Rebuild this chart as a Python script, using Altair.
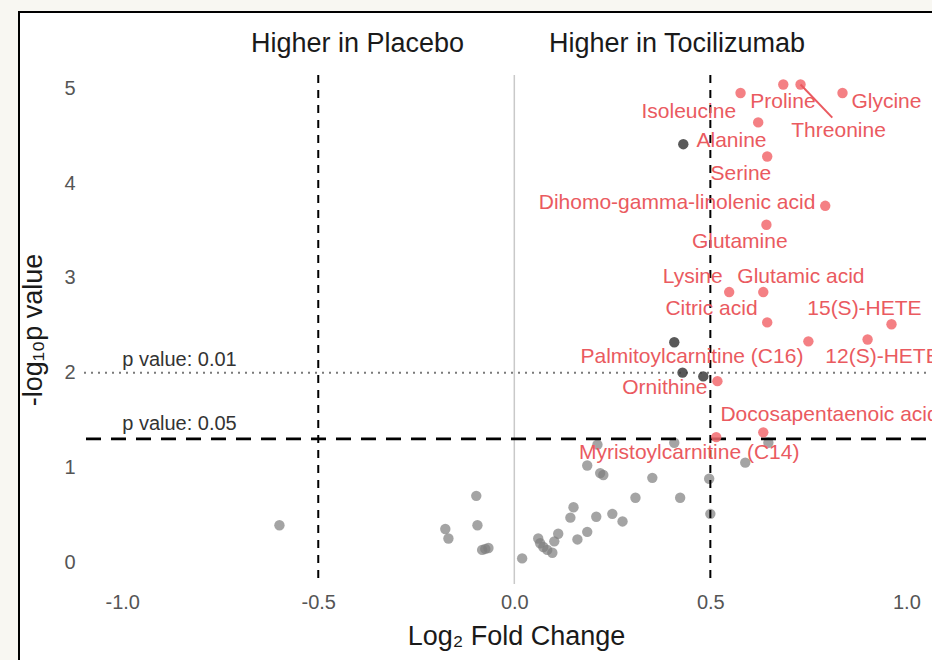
import altair as alt
import pandas as pd

# Metabolites significant in both p value and fold change (labelled, red)
sig_names = [
    "Proline", "Threonine", "Isoleucine", "Glycine", "Alanine", "Serine",
    "Dihomo-gamma-linolenic acid", "Glutamine", "Lysine", "Glutamic acid",
    "Citric acid", "15(S)-HETE", "Palmitoylcarnitine (C16)", "12(S)-HETE",
    "Ornithine", "Docosapentaenoic acid", "Myristoylcarnitine (C14)",
]
sig_fc = [0.686, 0.730, 0.577, 0.837, 0.622, 0.645, 0.793, 0.643, 0.548, 0.635,
          0.645, 0.962, 0.750, 0.901, 0.518, 0.635, 0.515]
sig_logp = [5.04, 5.04, 4.95, 4.95, 4.64, 4.28, 3.76, 3.56, 2.85, 2.85,
            2.53, 2.51, 2.33, 2.35, 1.91, 1.37, 1.32]
# Repelled label anchors (data units)
label_fc = [0.685, 0.827, 0.445, 0.949, 0.554, 0.578, 0.415, 0.575, 0.455, 0.731,
            0.503, 0.893, 0.453, 0.939, 0.384, 0.804, 0.446]
label_logp = [4.86, 4.55, 4.75, 4.85, 4.44, 4.10, 3.79, 3.38, 3.01, 3.01,
              2.67, 2.67, 2.17, 2.17, 1.84, 1.55, 1.15]
# Leader segment for Threonine
seg_fc = [0.730, 0.811]
seg_logp = [5.04, 4.69]

# Significant p value only (dark)
p_only_fc = [0.431, 0.408, 0.429, 0.482]
p_only_logp = [4.41, 2.32, 2.00, 1.96]

# Not significant (grey)
ns_fc = [-0.599, -0.176, -0.168, -0.097, -0.094, -0.082, -0.074, -0.066, 0.020,
         0.061, 0.066, 0.074, 0.084, 0.097, 0.112, 0.102, 0.161, 0.186, 0.151,
         0.143, 0.209, 0.250, 0.276, 0.309, 0.423, 0.352, 0.497, 0.500, 0.186,
         0.219, 0.227, 0.212, 0.408, 0.648, 0.589]
ns_logp = [0.39, 0.35, 0.25, 0.70, 0.39, 0.13, 0.14, 0.15, 0.04,
           0.25, 0.20, 0.16, 0.13, 0.10, 0.30, 0.22, 0.24, 0.32, 0.58,
           0.47, 0.48, 0.51, 0.43, 0.68, 0.68, 0.89, 0.88, 0.51, 1.02,
           0.94, 0.92, 1.24, 1.26, 1.26, 1.05]

fc_cutoffs = [-0.5, 0.5]
p_cut_05 = [1.301]
p_cut_01 = [2.0]

FONT = "Liberation Sans, Arial, DejaVu Sans"
RED = "#f26a6e"
RED_TEXT = "#ea5a60"
PAPER = "#f8f7f2"
PT = 108

x_dom = [-1.1, 1.05]
y_dom = [-0.23, 5.14]
W, H = 843, 509
PAD_L, PAD_T = 83, 75

xs = alt.Scale(domain=x_dom, nice=False, zero=False)
ys = alt.Scale(domain=y_dom, nice=False, zero=False)

ns_df = pd.DataFrame({"fc": ns_fc, "logp": ns_logp})
p_df = pd.DataFrame({"fc": p_only_fc, "logp": p_only_logp})
sig_df = pd.DataFrame({"name": sig_names, "fc": sig_fc, "logp": sig_logp,
                       "lx": label_fc, "ly": label_logp})
seg_df = pd.DataFrame({"fc": seg_fc[:1], "logp": seg_logp[:1],
                       "fc2": seg_fc[1:], "logp2": seg_logp[1:]})

one = pd.DataFrame({"k": [0]})

# Paper margin outside the figure frame, and the frame outline itself
margin_left = alt.Chart(one).mark_rect(fill=PAPER, clip=False).encode(
    x=alt.value(-PAD_L), x2=alt.value(19 - PAD_L),
    y=alt.value(-PAD_T), y2=alt.value(H + 120),
)
margin_top = alt.Chart(one).mark_rect(fill=PAPER, clip=False).encode(
    x=alt.value(-PAD_L), x2=alt.value(W + 60),
    y=alt.value(-PAD_T), y2=alt.value(12 - PAD_T),
)
frame = alt.Chart(one).mark_rect(
    filled=False, stroke="black", strokeWidth=2, clip=False
).encode(
    x=alt.value(19 - PAD_L), x2=alt.value(W + 60),
    y=alt.value(12 - PAD_T), y2=alt.value(H + 120),
)

zero_line = alt.Chart(pd.DataFrame({"fc": [0.0]})).mark_rule(
    color="#c9c9c9", strokeWidth=1.5
).encode(x=alt.X("fc:Q", scale=xs))

vlines = alt.Chart(pd.DataFrame({"fc": fc_cutoffs})).mark_rule(
    color="black", strokeWidth=2, strokeDash=[8, 7]
).encode(x=alt.X("fc:Q", scale=xs))

hline05 = alt.Chart(pd.DataFrame({"logp": p_cut_05})).mark_rule(
    color="black", strokeWidth=2.6, strokeDash=[15, 10]
).encode(y=alt.Y("logp:Q", scale=ys))

hline01 = alt.Chart(pd.DataFrame({"logp": p_cut_01})).mark_rule(
    color="#7a7a7a", strokeWidth=2, strokeDash=[2, 5]
).encode(y=alt.Y("logp:Q", scale=ys))

x_axis = alt.Axis(values=[-1, -0.5, 0, 0.5, 1], format=".1f",
                  labelExpr="replace(datum.label, '\u2212', '-')",
                  title="Log\u2082 Fold Change", titleX=433, titleY=60,
                  titleAlign="center", titleBaseline="alphabetic",
                  labelPadding=8, zindex=2)
y_axis = alt.Axis(values=[0, 1, 2, 3, 4, 5], format="d",
                  title="-log\u2081\u2080p value", titleX=-50, titleY=H / 2,
                  titleAngle=270, titleAlign="center",
                  titleBaseline="middle", labelPadding=8, zindex=2)

ns_pts = alt.Chart(ns_df).mark_circle(size=PT, color="#7d7d7d", opacity=0.7).encode(
    x=alt.X("fc:Q", scale=xs, axis=x_axis),
    y=alt.Y("logp:Q", scale=ys, axis=y_axis),
)

p_pts = alt.Chart(p_df).mark_circle(size=PT, color="#3c3c3c", opacity=0.85).encode(
    x=alt.X("fc:Q", scale=xs), y=alt.Y("logp:Q", scale=ys)
)

sig_pts = alt.Chart(sig_df).mark_circle(size=PT, color=RED, opacity=0.85).encode(
    x=alt.X("fc:Q", scale=xs), y=alt.Y("logp:Q", scale=ys)
)

segment = alt.Chart(seg_df).mark_rule(color=RED_TEXT, strokeWidth=2).encode(
    x=alt.X("fc:Q", scale=xs), y=alt.Y("logp:Q", scale=ys),
    x2="fc2:Q", y2="logp2:Q",
)

sig_labels = alt.Chart(sig_df).mark_text(
    font=FONT, fontSize=21, color=RED_TEXT, align="center", baseline="middle",
    clip=False
).encode(
    x=alt.X("lx:Q", scale=xs), y=alt.Y("ly:Q", scale=ys), text="name:N"
)

p_notes = alt.Chart(pd.DataFrame({
    "fc": [-1.0, -1.0], "logp": [2.07, 1.39],
    "txt": ["p value: 0.01", "p value: 0.05"],
})).mark_text(
    font=FONT, fontSize=20, color="#333333", align="left", baseline="alphabetic"
).encode(x=alt.X("fc:Q", scale=xs), y=alt.Y("logp:Q", scale=ys), text="txt:N")

side_titles = alt.Chart(pd.DataFrame({
    "fc": [-0.40, 0.415], "logp": [5.38, 5.38],
    "txt": ["Higher in Placebo", "Higher in Tocilizumab"],
})).mark_text(
    font=FONT, fontSize=27, color="#1a1a1a", align="center",
    baseline="alphabetic", clip=False
).encode(x=alt.X("fc:Q", scale=xs), y=alt.Y("logp:Q", scale=ys), text="txt:N")

chart = alt.layer(
    ns_pts, margin_left, margin_top, frame, zero_line, vlines, hline05, hline01,
    p_pts, sig_pts, segment, sig_labels, p_notes, side_titles,
).properties(
    width=W, height=H,
    autosize=alt.AutoSizeParams(type="none"),
    padding={"left": PAD_L, "top": PAD_T, "right": 932 - PAD_L - W,
             "bottom": 660 - PAD_T - H},
    background="white",
).configure_view(
    stroke=None
).configure_axis(
    grid=False, domain=False, ticks=False,
    labelFont=FONT, labelFontSize=20, labelColor="#555555",
    titleFont=FONT, titleFontSize=27, titleColor="#1a1a1a", titleFontWeight="normal",
)

chart.save("out.html", embed_options={"renderer": "svg", "actions": False})
